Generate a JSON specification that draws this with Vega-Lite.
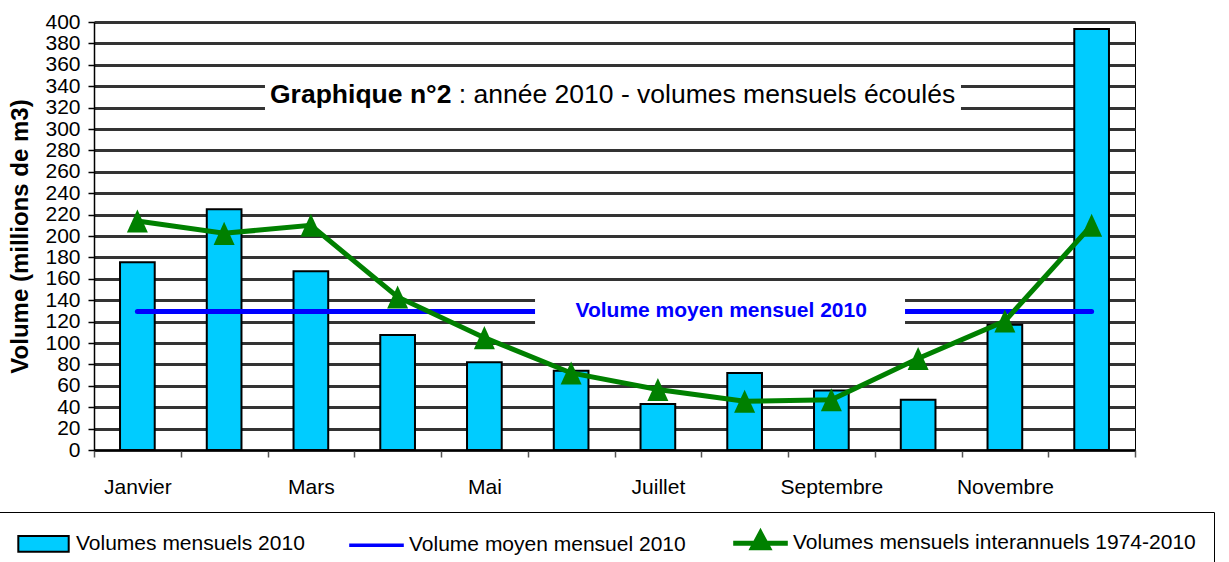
{
  "$schema": "https://vega.github.io/schema/vega-lite/v6.json",
  "width": 1041,
  "height": 428,
  "autosize": {"type": "none"},
  "padding": {"left": 94, "top": 22, "right": 94, "bottom": 112},
  "background": "white",
  "config": {
    "font": "Liberation Sans",
    "view": {"stroke": "#000000", "strokeWidth": 1},
    "axisY": {
      "titleFont": "Liberation Sans",
      "titleFontSize": 24,
      "titleFontWeight": "bold",
      "titleColor": "#000000",
      "titlePadding": 12,
      "labelOverlap": false,
      "labelFont": "Liberation Sans",
      "labelFontSize": 21,
      "labelColor": "#000000",
      "labelPadding": 8,
      "tickSize": 6,
      "tickColor": "#000000",
      "tickWidth": 1.5,
      "domainColor": "#000000",
      "domainWidth": 1.5,
      "grid": true,
      "gridColor": "#333333",
      "gridWidth": 3,
      "gridOpacity": 1
    },
    "axisX": {
      "grid": false,
      "domainColor": "#000000",
      "domainWidth": 1.5,
      "tickBand": "extent",
      "tickColor": "#555555",
      "tickSize": 7,
      "tickWidth": 1.5,
      "labelFont": "Liberation Sans",
      "labelFontSize": 21,
      "labelColor": "#000000",
      "labelAngle": 0,
      "labelPadding": 19,
      "labelOverlap": false
    },
    "legend": {
      "orient": "none",
      "legendX": -95,
      "legendY": 490,
      "direction": "horizontal",
      "columns": 3,
      "padding": 18,
      "strokeColor": "#000000",
      "fillColor": "#ffffff",
      "labelFont": "Liberation Sans",
      "labelFontSize": 21,
      "labelColor": "#000000",
      "labelLimit": 700,
      "symbolSize": 441,
      "labelOffset": 33,
      "columnPadding": 37
    }
  },
  "data": {
    "values": [
      {"mois": "Janvier", "volume2010": 175.5, "interannuel": 214},
      {"mois": "Février", "volume2010": 225, "interannuel": 202.5},
      {"mois": "Mars", "volume2010": 167, "interannuel": 210},
      {"mois": "Avril", "volume2010": 107.5, "interannuel": 143},
      {"mois": "Mai", "volume2010": 82, "interannuel": 105},
      {"mois": "Juin", "volume2010": 74, "interannuel": 72},
      {"mois": "Juillet", "volume2010": 43, "interannuel": 56.5},
      {"mois": "Août", "volume2010": 72, "interannuel": 45.5},
      {"mois": "Septembre", "volume2010": 55.5, "interannuel": 47},
      {"mois": "Octobre", "volume2010": 47, "interannuel": 85.5},
      {"mois": "Novembre", "volume2010": 117, "interannuel": 120.5},
      {"mois": "Décembre", "volume2010": 393.5, "interannuel": 210}
    ]
  },
  "resolve": {"scale": {"x": "independent"}},
  "layer": [
    {
      "layer": [
        {
          "mark": {"type": "bar", "width": {"band": 0.4}, "fill": "#00ccff", "stroke": "#000000", "strokeWidth": 2},
          "encoding": {
            "x": {
              "field": "mois", "type": "nominal",
              "sort": ["Janvier","Février","Mars","Avril","Mai","Juin","Juillet","Août","Septembre","Octobre","Novembre","Décembre"],
              "scale": {"domain": ["Janvier","Février","Mars","Avril","Mai","Juin","Juillet","Août","Septembre","Octobre","Novembre","Décembre"], "paddingInner": 0, "paddingOuter": 0},
              "axis": {
                "title": null,
                "labelExpr": "indexof(['Janvier','Mars','Mai','Juillet','Septembre','Novembre'], datum.value) >= 0 ? datum.value : ''"
              }
            },
            "y": {
              "field": "volume2010", "type": "quantitative",
              "title": "Volume (millions de m3)",
              "scale": {"domain": [0, 400], "nice": false},
              "axis": {"values": [0,20,40,60,80,100,120,140,160,180,200,220,240,260,280,300,320,340,360,380,400], "gridColor": "#333333", "gridWidth": 3}
            }
          }
        },
        {
          "data": {"values": [{"mois": "Janvier", "moyenne": 129.4}, {"mois": "Décembre", "moyenne": 129.4}]},
          "mark": {"type": "line", "strokeWidth": 5, "strokeCap": "round", "color": "#0000ff"},
          "encoding": {
            "x": {"field": "mois", "type": "nominal", "sort": ["Janvier","Février","Mars","Avril","Mai","Juin","Juillet","Août","Septembre","Octobre","Novembre","Décembre"]},
            "y": {"field": "moyenne", "type": "quantitative", "title": "Volume (millions de m3)", "axis": {"values": [0,20,40,60,80,100,120,140,160,180,200,220,240,260,280,300,320,340,360,380,400], "gridColor": "#333333", "gridWidth": 3}}
          }
        },
        {
          "mark": {"type": "line", "strokeWidth": 5, "color": "#008000"},
          "encoding": {
            "x": {"field": "mois", "type": "nominal", "sort": ["Janvier","Février","Mars","Avril","Mai","Juin","Juillet","Août","Septembre","Octobre","Novembre","Décembre"]},
            "y": {"field": "interannuel", "type": "quantitative", "title": "Volume (millions de m3)", "axis": {"values": [0,20,40,60,80,100,120,140,160,180,200,220,240,260,280,300,320,340,360,380,400], "gridColor": "#333333", "gridWidth": 3}}
          }
        },
        {
          "mark": {"type": "point", "filled": true, "opacity": 1, "size": 441, "shape": "M0,-1.1L1,1.1L-1,1.1Z", "color": "#008000"},
          "encoding": {
            "x": {"field": "mois", "type": "nominal", "sort": ["Janvier","Février","Mars","Avril","Mai","Juin","Juillet","Août","Septembre","Octobre","Novembre","Décembre"]},
            "y": {"field": "interannuel", "type": "quantitative", "title": "Volume (millions de m3)", "axis": {"values": [0,20,40,60,80,100,120,140,160,180,200,220,240,260,280,300,320,340,360,380,400], "gridColor": "#333333", "gridWidth": 3}}
          }
        }
      ]
    },
    {
      "data": {"values": [{}]},
      "layer": [
        {
          "mark": {"type": "rect", "fill": "#ffffff"},
          "encoding": {
            "x": {"datum": 1.971, "type": "quantitative", "scale": {"domain": [0, 12], "nice": false, "zero": false}, "axis": null},
            "x2": {"datum": 9.994},
            "y": {"datum": 303, "type": "quantitative", "title": "Volume (millions de m3)", "axis": {"values": [0,20,40,60,80,100,120,140,160,180,200,220,240,260,280,300,320,340,360,380,400], "gridColor": "#333333", "gridWidth": 3}},
            "y2": {"datum": 357}
          }
        },
        {
          "mark": {"type": "rect", "fill": "#ffffff"},
          "encoding": {
            "x": {"datum": 5.084, "type": "quantitative", "axis": null},
            "x2": {"datum": 9.349},
            "y": {"datum": 105, "type": "quantitative", "title": "Volume (millions de m3)", "axis": {"values": [0,20,40,60,80,100,120,140,160,180,200,220,240,260,280,300,320,340,360,380,400], "gridColor": "#333333", "gridWidth": 3}},
            "y2": {"datum": 155}
          }
        },
        {
          "mark": {"type": "text", "text": "Graphique n°2", "align": "right", "baseline": "middle", "font": "Liberation Sans", "fontWeight": "bold", "fontSize": 26.5, "color": "#000000"},
          "encoding": {
            "x": {"datum": 4.12, "type": "quantitative", "axis": null},
            "y": {"datum": 332, "type": "quantitative", "title": "Volume (millions de m3)", "axis": {"values": [0,20,40,60,80,100,120,140,160,180,200,220,240,260,280,300,320,340,360,380,400], "gridColor": "#333333", "gridWidth": 3}}
          }
        },
        {
          "mark": {"type": "text", "text": ": année 2010 - volumes mensuels écoulés", "align": "left", "baseline": "middle", "font": "Liberation Sans", "fontSize": 26.5, "color": "#000000"},
          "encoding": {
            "x": {"datum": 4.205, "type": "quantitative", "axis": null},
            "y": {"datum": 332, "type": "quantitative", "title": "Volume (millions de m3)", "axis": {"values": [0,20,40,60,80,100,120,140,160,180,200,220,240,260,280,300,320,340,360,380,400], "gridColor": "#333333", "gridWidth": 3}}
          }
        },
        {
          "mark": {"type": "text", "text": "Volume moyen mensuel 2010", "align": "center", "baseline": "middle", "font": "Liberation Sans", "fontWeight": "bold", "fontSize": 21, "color": "#0000ff"},
          "encoding": {
            "x": {"datum": 7.23, "type": "quantitative", "axis": null},
            "y": {"datum": 130, "type": "quantitative", "title": "Volume (millions de m3)", "axis": {"values": [0,20,40,60,80,100,120,140,160,180,200,220,240,260,280,300,320,340,360,380,400], "gridColor": "#333333", "gridWidth": 3}}
          }
        },
        {
          "data": {"values": [
            {"serie": "Volumes mensuels 2010"},
            {"serie": "Volume moyen mensuel 2010"},
            {"serie": "Volumes mensuels interannuels 1974-2010"}
          ]},
          "mark": {"type": "point", "filled": true, "opacity": 1, "clip": true},
          "encoding": {
            "x": {"datum": 6, "type": "quantitative", "axis": null},
            "y": {"datum": -200, "type": "quantitative", "title": "Volume (millions de m3)", "axis": {"values": [0,20,40,60,80,100,120,140,160,180,200,220,240,260,280,300,320,340,360,380,400], "gridColor": "#333333", "gridWidth": 3}},
            "fill": {
              "field": "serie", "type": "nominal",
              "scale": {"domain": ["Volumes mensuels 2010", "Volume moyen mensuel 2010", "Volumes mensuels interannuels 1974-2010"], "range": ["#00ccff", "transparent", "#008000"]},
              "legend": {"title": null}
            },
            "stroke": {
              "field": "serie", "type": "nominal",
              "scale": {"domain": ["Volumes mensuels 2010", "Volume moyen mensuel 2010", "Volumes mensuels interannuels 1974-2010"], "range": ["#000000", "#0000ff", "#008000"]},
              "legend": {"title": null}
            },
            "shape": {
              "field": "serie", "type": "nominal",
              "scale": {"domain": ["Volumes mensuels 2010", "Volume moyen mensuel 2010", "Volumes mensuels interannuels 1974-2010"], "range": ["M-1.114,-0.75H3.686V0.75H-1.114Z", "M-1.314,0H3.886", "M-1.314,0H3.886M1.286,-0.95L2.036,0.45L0.536,0.45Z"]},
              "legend": {"title": null}
            },
            "strokeWidth": {
              "field": "serie", "type": "ordinal",
              "scale": {"domain": ["Volumes mensuels 2010", "Volume moyen mensuel 2010", "Volumes mensuels interannuels 1974-2010"], "range": [2, 5, 5]},
              "legend": {"title": null}
            }
          }
        }
      ]
    }
  ]
}
